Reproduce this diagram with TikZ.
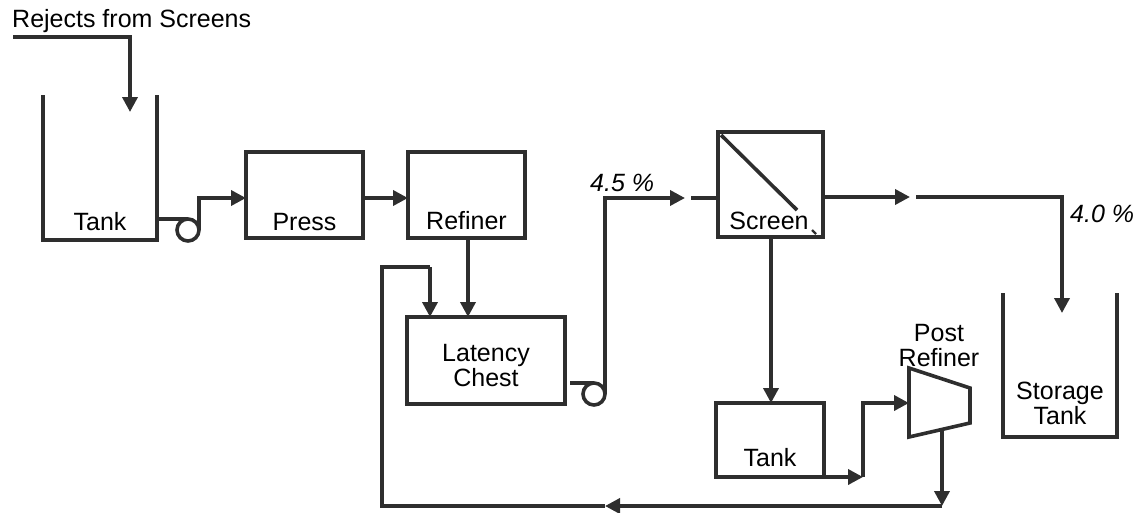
\documentclass[tikz,border=0pt]{standalone}
\usepackage{fontspec}
\setmainfont{Liberation Sans}
\usetikzlibrary{arrows.meta,calc}
\definecolor{ink}{HTML}{2E2E2E}
\begin{document}
\begin{tikzpicture}[x=1pt,y=-1pt]
\tikzset{
  ln/.style={draw=ink, line width=3.6pt},
  arr/.style={ln, -{Triangle[length=15pt,width=15pt]}},
  box/.style={draw=ink, line width=3.6pt, rectangle, inner sep=0pt, outer sep=0pt},
  pump/.style={draw=ink, line width=3.6pt, circle, minimum size=22pt, inner sep=0pt, outer sep=0pt},
  lbl/.style={font=\fontsize{25}{25}\selectfont, inner sep=0pt, text=black, align=center},
  pct/.style={font=\fontsize{25}{25}\selectfont\itshape, inner sep=0pt, text=black},
}
\useasboundingbox (0,0) rectangle (1141,512);

% ---- Rejects from Screens
\node[lbl, anchor=base west] (rej) at (12,27) {Rejects from Screens};
\coordinate (r0) at (13,37);
\coordinate (r2) at (130,112);
\draw[arr] (r0) -| (r2);

% ---- Tank 1 (open top)
\node[minimum width=114pt, minimum height=145pt, inner sep=0pt, outer sep=0pt] (tank1) at (100,167.5) {};
\draw[ln] (tank1.north west) -- (tank1.south west) -- (tank1.south east) -- (tank1.north east);
\node[lbl, anchor=base] (tank1t) at (100,230) {Tank};

% ---- Press, Refiner
\node[box, minimum width=117pt, minimum height=86pt] (press) at (304.5,195) {};
\node[lbl, anchor=base] (presst) at (304.5,230) {Press};
\node[box, minimum width=117pt, minimum height=86pt] (refiner) at (466.5,195) {};
\node[lbl, anchor=base] (refinert) at (466.5,229) {Refiner};

% ---- Pump 1
\node[pump] (pump1) at (188,230) {};
\draw[ln] (tank1.east |- pump1.north) -- (pump1.north);
\coordinate (j1) at (199,198);
\draw[arr] (pump1.east) -- (j1) -- (j1 -| press.west);
\draw[arr] (press.east |- j1) -- (refiner.west |- j1);

% ---- Latency Chest
\node[box, minimum width=158pt, minimum height=87pt] (chest) at (486,360.5) {};
\node[lbl] (chestt) at (486,366) {Latency\\Chest};
\draw[arr] (468,238) -- (468,317);

% ---- Pump 2 and line to screen
\node[pump] (pump2) at (594,394) {};
\coordinate (c2) at ($(chest.east |- pump2.north)+(5,0)$);
\draw[ln] (c2) -- (pump2.north);
\coordinate (a4) at (685,198);
\draw[arr] (pump2.east) |- (a4);
\node[pct, anchor=base west] (p45) at (590,191) {4.5 \%};

% ---- Screen
\node[box, minimum width=105pt, minimum height=105pt] (screen) at (770.5,184.5) {};
\draw[ln] ($(screen.north west)+(3,3)$) -- (797,210);
\draw[draw=ink, line width=2.4pt] (812,230) -- (816,234);
\node[lbl, anchor=base] (screent) at (769,229) {Screen};
\coordinate (a4b) at (691,198);
\draw[ln] (a4b) -- (a4b -| screen.west);

% ---- Screen to storage
\coordinate (a5) at (910,197);
\draw[arr] (screen.east |- a5) -- (a5);
\coordinate (a6) at (916,197);
\coordinate (a6d) at (1062,313);
\draw[arr] (a6) -| (a6d);
\node[pct, anchor=base west] (p40) at (1070,222) {4.0 \%};

% ---- Storage tank
\node[minimum width=114pt, minimum height=144pt, inner sep=0pt, outer sep=0pt] (storage) at (1060,365) {};
\draw[ln] (storage.north west) -- (storage.south west) -- (storage.south east) -- (storage.north east);
\node[lbl] (storaget) at (1060,403) {Storage\\Tank};

% ---- Tank 2
\node[box, minimum width=108pt, minimum height=74pt] (tank2) at (770,440) {};
\node[lbl, anchor=base] (tank2t) at (770,466) {Tank};
\draw[arr] (771,237) -- (771,403);

% ---- Post Refiner
\coordinate (pr1) at (909,368);
\coordinate (pr2) at (970,388);
\coordinate (pr3) at (970,423);
\coordinate (pr4) at (909,437);
\draw[ln, line join=miter] (pr1) -- (pr2) -- (pr3) -- (pr4) -- cycle;
\node[lbl] (prt) at (939,346) {Post\\Refiner};

\coordinate (a7) at (863,477);
\draw[arr] (tank2.south east) -- (a7);
\coordinate (a8) at (909,403);
\draw[arr] (a7) |- (a8);

% ---- Recycle loop
\coordinate (pro) at ($(pr4)!0.54!(pr3)$);
\coordinate (b1) at (942,506);
\draw[arr] (pro) -- (b1);
\coordinate (bm) at (605,506);
\draw[arr] (b1) -- (bm);
\coordinate (b2) at (382,506);
\coordinate (b3) at (382,267);
\coordinate (b4) at (430,267);
\draw[ln] (bm) -- (b2) -- (b3) -- (b4);
\draw[arr] (b4) -- (b4 |- chest.north);
\end{tikzpicture}
\end{document}
